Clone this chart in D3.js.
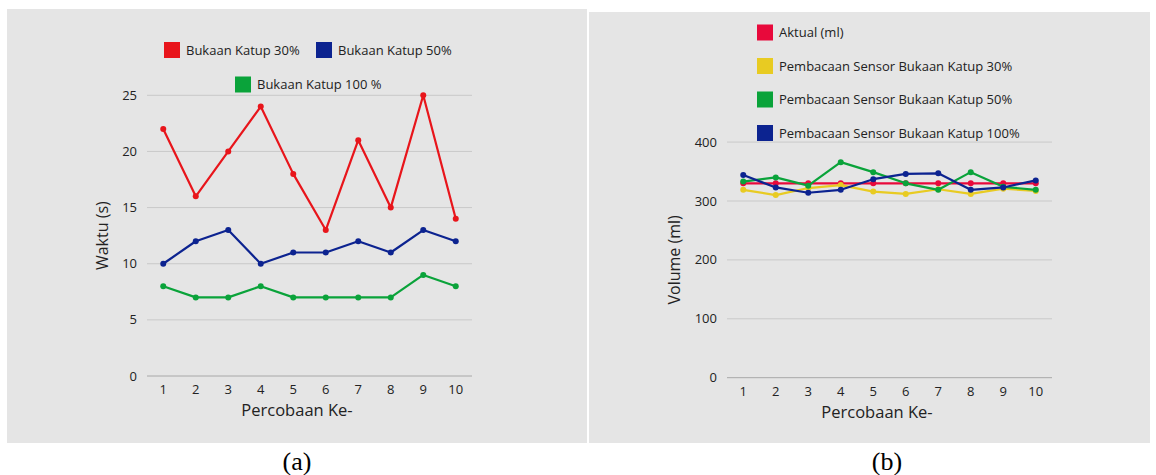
<!DOCTYPE html>
<html><head><meta charset="utf-8">
<script src="https://cdn.jsdelivr.net/npm/d3@7"></script>
<style>body{margin:0;background:#fff}svg{display:block}</style>
</head><body>
<svg id="c" width="1156" height="475"></svg>
<script>
const trials = ["1","2","3","4","5","6","7","8","9","10"];
// Chart (a)
const aTicks = [0,5,10,15,20,25];
const aNames = ["Bukaan Katup 30%","Bukaan Katup 50%","Bukaan Katup 100 %"];
const aColors = ["#e8151b","#0c2390","#0aa33a"];
const a30 = [22,16,20,24,18,13,21,15,25,14];
const a50 = [10,12,13,10,11,11,12,11,13,12];
const a100 = [8,7,7,8,7,7,7,7,9,8];
// Chart (b)
const bTicks = [0,100,200,300,400];
const bNames = ["Aktual (ml)","Pembacaan Sensor Bukaan Katup 30%","Pembacaan Sensor Bukaan Katup 50%","Pembacaan Sensor Bukaan Katup 100%"];
const bColors = ["#e8093b","#e8cb22","#0aa33a","#0c2390"];
const bAktual = [330,330,330,330,330,330,330,330,330,330];
const b30 = [319,310,322,327,316,312,320,312,321,317];
const b50 = [333,340,326,366,349,330,319,349,324,319];
const b100 = [344,323,314,319,337,346,347,319,323,335];

const svg = d3.select("#c");
const font = "'Open Sans', sans-serif";

function panel(o){
  const g = svg.append("g");
  g.append("rect").attr("x",o.px).attr("y",o.py).attr("width",o.pw).attr("height",o.ph).attr("fill","#e5e5e5");
  const x = d3.scalePoint().domain(trials).range([o.x0,o.x1]).padding(0.5);
  const y = d3.scaleLinear().domain(o.ydom).range([o.y0,o.y1]);
  g.selectAll(".grid").data(o.ticks).join("line")
    .attr("x1",o.x0).attr("x2",o.x1)
    .attr("y1",d=>y(d)).attr("y2",d=>y(d))
    .attr("stroke",d=>d===0?"#a8a8a8":"#c9c9c9").attr("stroke-width",1);
  g.selectAll(".yt").data(o.ticks).join("text")
    .attr("x",o.x0-10).attr("y",d=>y(d)+4.5).attr("text-anchor","end")
    .attr("font-family",font).attr("font-size",13).attr("fill","#222").text(d=>d);
  g.selectAll(".xt").data(trials).join("text")
    .attr("x",d=>x(d)).attr("y",o.y0+18).attr("text-anchor","middle")
    .attr("font-family",font).attr("font-size",13).attr("fill","#222").text(d=>d);
  g.append("text").attr("x",(o.x0+o.x1)/2-12.5).attr("y",o.y0+40).attr("text-anchor","middle")
    .attr("font-family",font).attr("font-size",16.5).attr("fill","#222").text("Percobaan Ke-");
  g.append("text").attr("transform",`translate(${o.ytx},${(o.y0+o.y1)/2}) rotate(-90)`)
    .attr("text-anchor","middle").attr("font-family",font).attr("font-size",16).attr("fill","#222").text(o.ytitle);
  const line = d3.line().x((d,i)=>x(trials[i])).y(d=>y(d));
  o.series.forEach((s,k)=>{
    g.append("path").attr("d",line(s)).attr("fill","none").attr("stroke",o.colors[k]).attr("stroke-width",2.2).attr("stroke-linejoin","round");
    g.selectAll(null).data(s).join("circle").attr("cx",(d,i)=>x(trials[i])).attr("cy",d=>y(d)).attr("r",3).attr("fill",o.colors[k]);
  });
  o.legend.forEach((L,k)=>{
    g.append("rect").attr("x",L[0]).attr("y",L[1]-8).attr("width",16).attr("height",16).attr("fill",o.colors[k]);
    g.append("text").attr("x",L[0]+22).attr("y",L[1]+4.5).attr("font-family",font).attr("font-size",13).attr("fill","#222").text(o.names[k]);
  });
}

panel({px:7,py:9,pw:580,ph:434,x0:147,x1:472,y0:376,y1:95.3,ydom:[0,25],ticks:aTicks,
  ytitle:"Waktu (s)",ytx:108,series:[a30,a50,a100],colors:aColors,names:aNames,
  legend:[[164,50],[316,50],[235,84.5]]});
panel({px:589,py:12,pw:561,ph:431,x0:727,x1:1052,y0:377.7,y1:142.1,ydom:[0,400],ticks:bTicks,
  ytitle:"Volume (ml)",ytx:680,series:[bAktual,b30,b50,b100],colors:bColors,names:bNames,
  legend:[[757,32.5],[757,66],[757,99.5],[757,133]]});

svg.append("text").attr("x",297).attr("y",470).attr("text-anchor","middle")
  .attr("font-family","'Liberation Serif', serif").attr("font-size",26).attr("fill","#000").text("(a)");
svg.append("text").attr("x",887).attr("y",470).attr("text-anchor","middle")
  .attr("font-family","'Liberation Serif', serif").attr("font-size",26).attr("fill","#000").text("(b)");
</script>
</body></html>
